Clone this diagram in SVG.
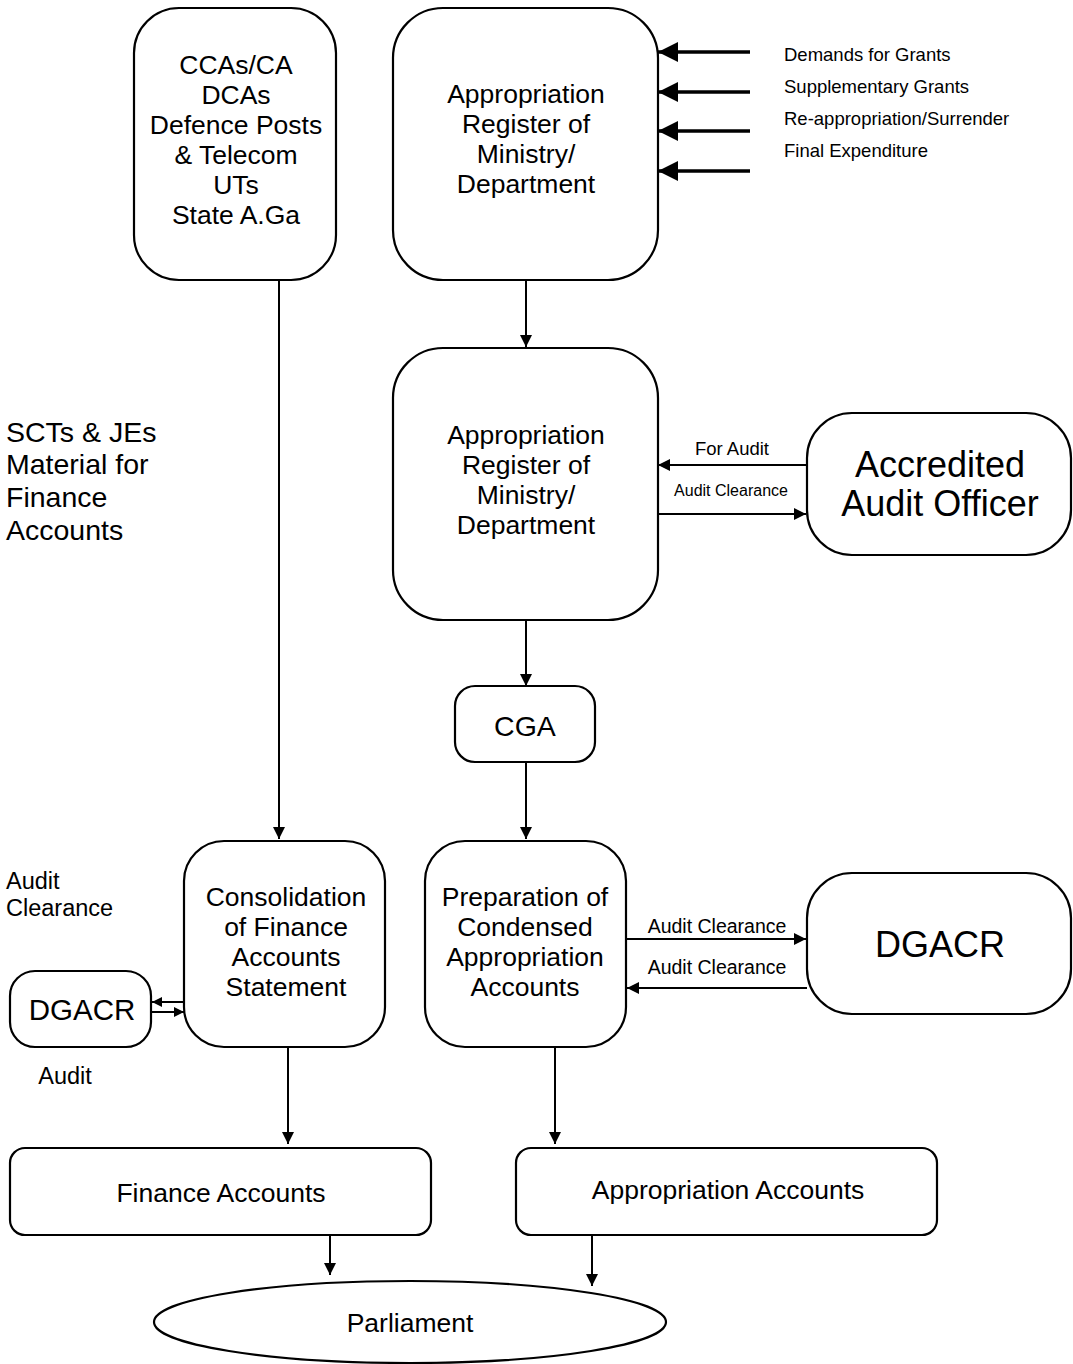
<svg xmlns="http://www.w3.org/2000/svg" width="1073" height="1364" viewBox="0 0 1073 1364">
  <defs>
    <marker id="head" markerUnits="userSpaceOnUse" markerWidth="12" markerHeight="12" refX="12" refY="6" orient="auto">
      <path d="M0,0 L12,6 L0,12 Z" fill="#000"/>
    </marker>
    <marker id="headSmall" markerUnits="userSpaceOnUse" markerWidth="10" markerHeight="10" refX="10" refY="5" orient="auto">
      <path d="M0,0 L10,5 L0,10 Z" fill="#000"/>
    </marker>
    <marker id="headBig" markerUnits="userSpaceOnUse" markerWidth="20" markerHeight="20" refX="20" refY="10" orient="auto">
      <path d="M0,0 L20,10 L0,20 Z" fill="#000"/>
    </marker>
  </defs>
  <style>
    .box { fill: #fff; stroke: #000; stroke-width: 2.2; }
    .t { font-family: "Liberation Sans", Arial, sans-serif; fill: #000; }
    .c { text-anchor: middle; }
    .body { font-size: 26.5px; }
    .big { font-size: 36px; }
    .in { font-size: 18.5px; }
    .note { font-size: 23.5px; }
    .ln { stroke: #000; stroke-width: 2; fill: none; }
    .thick { stroke: #000; stroke-width: 3.5; fill: none; }
  </style>
  <rect width="1073" height="1364" fill="#fff"/>

  <!-- connectors -->
  <g id="connectors">
    <line class="thick" x1="750" y1="52" x2="658" y2="52" marker-end="url(#headBig)"/>
    <line class="thick" x1="750" y1="92" x2="658" y2="92" marker-end="url(#headBig)"/>
    <line class="thick" x1="750" y1="131" x2="658" y2="131" marker-end="url(#headBig)"/>
    <line class="thick" x1="750" y1="171" x2="658" y2="171" marker-end="url(#headBig)"/>
    <line class="ln" x1="526" y1="280" x2="526" y2="347" marker-end="url(#head)"/>
    <line class="ln" x1="807" y1="465" x2="658" y2="465" marker-end="url(#head)"/>
    <line class="ln" x1="658" y1="514" x2="806" y2="514" marker-end="url(#head)"/>
    <line class="ln" x1="526" y1="620" x2="526" y2="686" marker-end="url(#head)"/>
    <line class="ln" x1="526" y1="762" x2="526" y2="839" marker-end="url(#head)"/>
    <line class="ln" x1="626" y1="939" x2="806" y2="939" marker-end="url(#head)"/>
    <line class="ln" x1="807" y1="988" x2="627" y2="988" marker-end="url(#head)"/>
    <line class="ln" x1="279" y1="280" x2="279" y2="839" marker-end="url(#head)"/>
    <line class="ln" x1="184" y1="1002" x2="152" y2="1002" marker-end="url(#headSmall)"/>
    <line class="ln" x1="152" y1="1012" x2="184" y2="1012" marker-end="url(#headSmall)"/>
    <line class="ln" x1="288" y1="1047" x2="288" y2="1144" marker-end="url(#head)"/>
    <line class="ln" x1="555" y1="1047" x2="555" y2="1144" marker-end="url(#head)"/>
    <line class="ln" x1="330" y1="1235" x2="330" y2="1275" marker-end="url(#head)"/>
    <line class="ln" x1="592" y1="1235" x2="592" y2="1286" marker-end="url(#head)"/>
    <text class="t in" x="784" y="61">Demands for Grants</text>
    <text class="t in" x="784" y="93">Supplementary Grants</text>
    <text class="t in" x="784" y="125">Re-appropriation/Surrender</text>
    <text class="t in" x="784" y="157">Final Expenditure</text>
    <text class="t in c" x="732" y="455">For Audit</text>
    <text class="t c" style="font-size:16px" x="731" y="496">Audit Clearance</text>
    <text class="t c" style="font-size:19.5px" x="717" y="933">Audit Clearance</text>
    <text class="t c" style="font-size:19.5px" x="717" y="974">Audit Clearance</text>
  </g>

  <!-- free labels -->
  <g id="label-scts">
    <text class="t" style="font-size:28.5px" x="6" y="442">SCTs &amp; JEs</text>
    <text class="t" style="font-size:28.5px" x="6" y="474">Material for</text>
    <text class="t" style="font-size:28.5px" x="6" y="507">Finance</text>
    <text class="t" style="font-size:28.5px" x="6" y="540">Accounts</text>
  </g>
  <g id="label-audit-clearance">
    <text class="t note" x="6" y="889">Audit</text>
    <text class="t note" x="6" y="916">Clearance</text>
  </g>
  <g id="label-audit">
    <text class="t note c" x="65" y="1084">Audit</text>
  </g>

  <!-- nodes -->
  <g id="node-ccas">
    <rect class="box" x="134" y="8" width="202" height="272" rx="45"/>
    <text class="t body c" x="236" y="74">CCAs/CA</text>
    <text class="t body c" x="236" y="104">DCAs</text>
    <text class="t body c" x="236" y="134">Defence Posts</text>
    <text class="t body c" x="236" y="164">&amp; Telecom</text>
    <text class="t body c" x="236" y="194">UTs</text>
    <text class="t body c" x="236" y="224">State A.Ga</text>
  </g>

  <g id="node-register-top">
    <rect class="box" x="393" y="8" width="265" height="272" rx="50"/>
    <text class="t body c" x="526" y="103">Appropriation</text>
    <text class="t body c" x="526" y="133">Register of</text>
    <text class="t body c" x="526" y="163">Ministry/</text>
    <text class="t body c" x="526" y="193">Department</text>
  </g>

  <g id="node-register-audit">
    <rect class="box" x="393" y="348" width="265" height="272" rx="50"/>
    <text class="t body c" x="526" y="444">Appropriation</text>
    <text class="t body c" x="526" y="474">Register of</text>
    <text class="t body c" x="526" y="504">Ministry/</text>
    <text class="t body c" x="526" y="534">Department</text>
  </g>

  <g id="node-aao">
    <rect class="box" x="807" y="413" width="264" height="142" rx="45"/>
    <text class="t big c" x="940" y="477">Accredited</text>
    <text class="t big c" x="940" y="516">Audit Officer</text>
  </g>

  <g id="node-cga">
    <rect class="box" x="455" y="686" width="140" height="76" rx="20"/>
    <text class="t c" style="font-size:28.5px" x="525" y="736">CGA</text>
  </g>

  <g id="node-preparation">
    <rect class="box" x="425" y="841" width="201" height="206" rx="40"/>
    <text class="t body c" x="525" y="906">Preparation of</text>
    <text class="t body c" x="525" y="936">Condensed</text>
    <text class="t body c" x="525" y="966">Appropriation</text>
    <text class="t body c" x="525" y="996">Accounts</text>
  </g>

  <g id="node-dgacr-right">
    <rect class="box" x="807" y="873" width="264" height="141" rx="45"/>
    <text class="t big c" x="940" y="957">DGACR</text>
  </g>

  <g id="node-consolidation">
    <rect class="box" x="184" y="841" width="201" height="206" rx="40"/>
    <text class="t body c" x="286" y="906">Consolidation</text>
    <text class="t body c" x="286" y="936">of Finance</text>
    <text class="t body c" x="286" y="966">Accounts</text>
    <text class="t body c" x="286" y="996">Statement</text>
  </g>

  <g id="node-dgacr-left">
    <rect class="box" x="10" y="971" width="141" height="76" rx="25"/>
    <text class="t c" style="font-size:29.5px" x="82" y="1020">DGACR</text>
  </g>

  <g id="node-finance-accounts">
    <rect class="box" x="10" y="1148" width="421" height="87" rx="15"/>
    <text class="t body c" x="221" y="1202">Finance Accounts</text>
  </g>

  <g id="node-appropriation-accounts">
    <rect class="box" x="516" y="1148" width="421" height="87" rx="15"/>
    <text class="t body c" x="728" y="1199">Appropriation Accounts</text>
  </g>

  <g id="node-parliament">
    <ellipse class="box" cx="410" cy="1322" rx="256" ry="41"/>
    <text class="t body c" x="410" y="1332">Parliament</text>
  </g>
</svg>
